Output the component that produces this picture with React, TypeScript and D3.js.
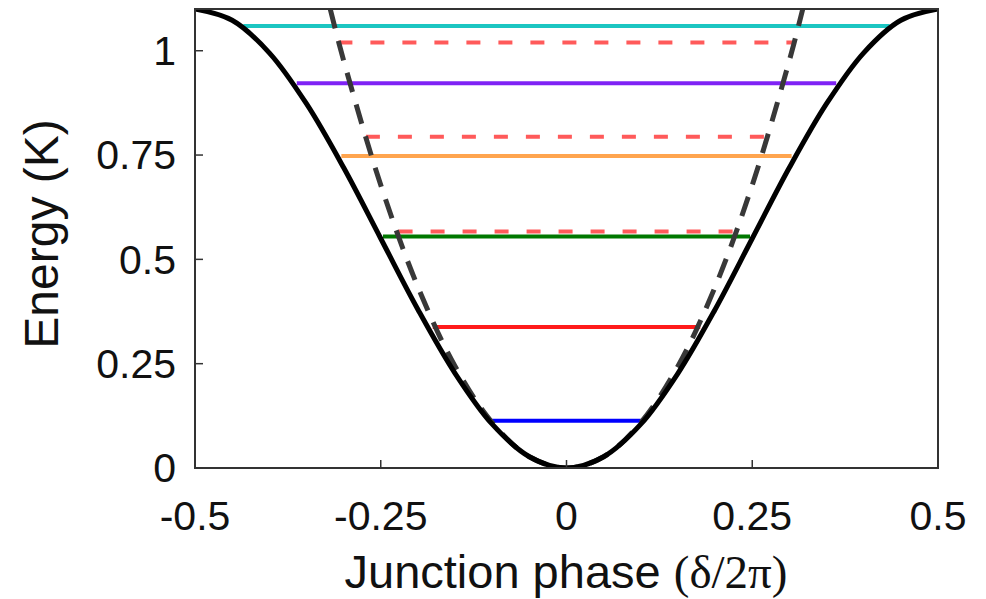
import React from "react";
import * as d3 from "d3";

// potential (solid black)
const phase = [-0.5, -0.45, -0.4, -0.35, -0.3, -0.25, -0.2, -0.15, -0.1, -0.05, 0, 0.05, 0.1, 0.15, 0.2, 0.25, 0.3, 0.35, 0.4, 0.45, 0.5];
const potential = [1.1, 1.073, 0.995, 0.873, 0.72, 0.55, 0.38, 0.227, 0.105, 0.027, 0, 0.027, 0.105, 0.227, 0.38, 0.55, 0.72, 0.873, 0.995, 1.073, 1.1];

// harmonic approximation (dashed)
const harmPhase = [-0.318, -0.3, -0.25, -0.2, -0.15, -0.1, -0.05, 0, 0.05, 0.1, 0.15, 0.2, 0.25, 0.3, 0.318];
const harmEnergy = [1.1, 0.977, 0.678, 0.434, 0.244, 0.109, 0.027, 0, 0.027, 0.109, 0.244, 0.434, 0.678, 0.977, 1.1];

// energy levels in the cosine well
const levelEnergy = [0.113, 0.338, 0.555, 0.748, 0.922, 1.059];
const levelHalfWidth = [0.1, 0.18, 0.247, 0.303, 0.363, 0.435];
const levelColors = ["#0000ff", "#ff1a1a", "#007800", "#ffa54f", "#7f22f5", "#1cc6c2"];

// harmonic levels (dashed red)
const harmLevelEnergy = [0.567, 0.794, 1.02];
const harmLevelHalfWidth = [0.226, 0.27, 0.307];

const xTicks = [-0.5, -0.25, 0, 0.25, 0.5];
const xTickLabels = ["-0.5", "-0.25", "0", "0.25", "0.5"];
const yTicks = [0, 0.25, 0.5, 0.75, 1];
const yTickLabels = ["0", "0.25", "0.5", "0.75", "1"];

export default function App() {
  const width = 986;
  const height = 599;
  const left = 195, right = 938, top = 9, bottom = 468;

  const x = d3.scaleLinear().domain([-0.5, 0.5]).range([left, right]);
  const y = d3.scaleLinear().domain([0, 1.1]).range([bottom, top]);

  const line = d3
    .line<number>()
    .x((_, i) => x(phase[i]))
    .y(d => y(d))
    .curve(d3.curveCatmullRom);

  const harmLine = d3
    .line<number>()
    .x((_, i) => x(harmPhase[i]))
    .y(d => y(d))
    .curve(d3.curveCatmullRom);

  const font = "'Liberation Sans', Arial, sans-serif";

  return (
    <svg
      width={width}
      height={height}
      style={{ position: "absolute", left: 0, top: 0, background: "#fff" }}
    >
      <defs>
        <clipPath id="plot">
          <rect x={left} y={top} width={right - left} height={bottom - top} />
        </clipPath>
      </defs>

      <g clipPath="url(#plot)">
        {levelEnergy.map((e, i) => (
          <line
            key={"l" + i}
            x1={x(-levelHalfWidth[i])}
            x2={x(levelHalfWidth[i])}
            y1={y(e)}
            y2={y(e)}
            stroke={levelColors[i]}
            strokeWidth={4}
          />
        ))}
        {harmLevelEnergy.map((e, i) => (
          <line
            key={"h" + i}
            x1={x(-harmLevelHalfWidth[i])}
            x2={x(harmLevelHalfWidth[i])}
            y1={y(e)}
            y2={y(e)}
            stroke="#ff5a5a"
            strokeWidth={4}
            strokeDasharray="14 18"
          />
        ))}
        <path
          d={harmLine(harmEnergy) || ""}
          fill="none"
          stroke="#383838"
          strokeWidth={5}
          strokeDasharray="20 13"
        />
        <path d={line(potential) || ""} fill="none" stroke="#000" strokeWidth={5} />
      </g>

      {/* frame */}
      <rect
        x={left}
        y={top}
        width={right - left}
        height={bottom - top}
        fill="none"
        stroke="#333"
        strokeWidth={2}
      />

      {/* ticks */}
      {xTicks.map((t, i) => (
        <g key={"xt" + i}>
          <line x1={x(t)} x2={x(t)} y1={bottom} y2={bottom - 8} stroke="#333" strokeWidth={1.5} />
          <text
            x={x(t)}
            y={530}
            textAnchor="middle"
            fontFamily={font}
            fontSize={41}
            fill="#111"
          >
            {xTickLabels[i]}
          </text>
        </g>
      ))}
      {yTicks.map((t, i) => (
        <g key={"yt" + i}>
          <line x1={left} x2={left + 8} y1={y(t)} y2={y(t)} stroke="#333" strokeWidth={1.5} />
          <text
            x={176}
            y={y(t)}
            dy="0.35em"
            textAnchor="end"
            fontFamily={font}
            fontSize={41}
            fill="#111"
          >
            {yTickLabels[i]}
          </text>
        </g>
      ))}

      {/* axis titles */}
      <text
        x={566}
        y={588}
        textAnchor="middle"
        fontFamily={font}
        fontSize={47}
        fill="#111"
      >
        Junction phase <tspan fontFamily="'Liberation Serif', 'Times New Roman', serif">(δ/2π)</tspan>
      </text>
      <text
        transform="translate(58,234) rotate(-90)"
        textAnchor="middle"
        fontFamily={font}
        fontSize={48}
        fill="#111"
      >
        Energy (K)
      </text>
    </svg>
  );
}
